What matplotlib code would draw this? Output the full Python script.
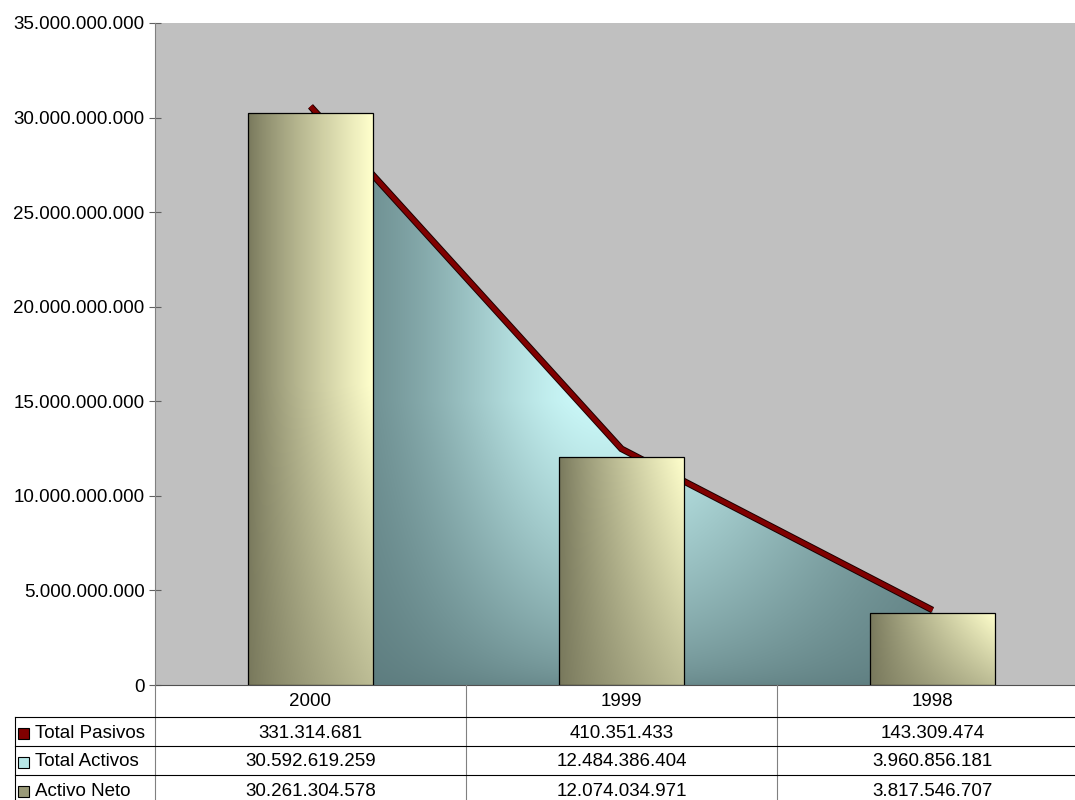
import numpy as np
import matplotlib
matplotlib.use("Agg")
import matplotlib.pyplot as plt
from matplotlib.patches import Polygon, Rectangle
from matplotlib.lines import Line2D
from matplotlib.transforms import blended_transform_factory
import matplotlib.patheffects as pe
from matplotlib.ticker import FuncFormatter, MultipleLocator

# ---- data -------------------------------------------------------------
years = ["2000", "1999", "1998"]
total_pasivos = [331314681, 410351433, 143309474]
total_activos = [30592619259, 12484386404, 3960856181]
activo_neto = [30261304578, 12074034971, 3817546707]
series_names = ["Total Pasivos", "Total Activos", "Activo Neto"]
y_max = 35e9
y_step = 5e9

plt.rcParams['font.family'] = ['Liberation Sans', 'DejaVu Sans']
FS = 13.5


def fmt(v):
    return f"{v:,.0f}".replace(",", ".")


W, H = 1075, 800
fig = plt.figure(figsize=(W / 100, H / 100), dpi=100)
fig.patch.set_facecolor('white')


def fx(px):
    return px / W


def fy(py):
    return 1 - py / H


ax = fig.add_axes([fx(155), fy(685), 933 / W, 662 / H])
ax.set_facecolor('#C0C0C0')
x = np.arange(len(years))

# ---- area: Total Activos with shaded fill -----------------------------
verts = [(x[0], 0)] + list(zip(x, total_activos)) + [(x[-1], 0)]
area = Polygon(verts, closed=True, facecolor='none', edgecolor='none', zorder=1)
ax.add_patch(area)
nx, ny = 500, 400
gx = np.linspace(x[0], x[-1], nx)
gy = np.linspace(0, max(total_activos), ny)
GX, GY = np.meshgrid(gx, gy)
sig = np.where(GX < 0.95, 0.6, 0.85)
hcomp = np.exp(-((GX - 0.95) / sig) ** 2)
vcomp = np.clip(GY / 15e9, 0, 1) ** 0.7
b = hcomp * (0.15 + 0.85 * vcomp)
dark = np.array([0.35, 0.47, 0.48])
light = np.array([0.80, 0.98, 0.98])
img = dark[None, None, :] + b[..., None] * (light - dark)[None, None, :]
im = ax.imshow(img, extent=(x[0], x[-1], 0, max(total_activos)), origin='lower',
               aspect='auto', zorder=1, interpolation='bilinear')
im.set_clip_path(area)

# ---- line: Total Pasivos stacked on Activo Neto -----------------------
stacked = np.array(activo_neto) + np.array(total_pasivos)
ax.plot(x, stacked, color='#800000', lw=3.4, zorder=2, solid_capstyle='butt',
        solid_joinstyle='miter',
        path_effects=[pe.Stroke(linewidth=4.8, foreground='#1a0000'), pe.Normal()])

# ---- bars: Activo Neto with gradient ----------------------------------
bw = 0.4
bdark = np.array([0.47, 0.47, 0.36])
blight = np.array([1.0, 1.0, 0.80])
for xi, val in zip(x, activo_neto):
    rect = Rectangle((xi - bw / 2, 0), bw, val, facecolor='none',
                     edgecolor='black', lw=0.9, zorder=4)
    ax.add_patch(rect)
    bx = np.linspace(0, 1, 120)
    byy = np.linspace(0, 1, 200)
    BX, BY = np.meshgrid(bx, byy)
    hpx = val / y_max * 662
    yf = np.clip(BY * hpx / 300, 0, 1) if hpx > 300 else BY
    t = np.clip(BX * (0.45 + 0.55 * yf), 0, 1) ** 0.85
    bimg = bdark[None, None, :] + t[..., None] * (blight - bdark)[None, None, :]
    bim = ax.imshow(bimg, extent=(xi - bw / 2, xi + bw / 2, 0, val), origin='lower',
                    aspect='auto', zorder=3, interpolation='bilinear')
    bim.set_clip_path(rect)

ax.set_xlim(-0.5, len(years) - 0.5)
ax.set_ylim(0, y_max)

# ---- axes styling -----------------------------------------------------
for s in ['top', 'right']:
    ax.spines[s].set_visible(False)
ax.spines['left'].set_color('#808080')
ax.spines['bottom'].set_color('#505050')
ax.set_xticks([])
ax.yaxis.set_major_locator(MultipleLocator(y_step))
ax.yaxis.set_major_formatter(FuncFormatter(lambda v, p: fmt(v)))
ax.tick_params(axis='y', direction='inout', length=9, width=0.8, color='#606060',
               labelsize=FS, pad=3)

# ---- data table under the plot ---------------------------------------
trans = blended_transform_factory(ax.transData, fig.transFigure)
line_kw = dict(transform=fig.transFigure, color='black', lw=0.8)
grid_kw = dict(transform=fig.transFigure, color='#808080', lw=0.8)

# vertical separators
fig.add_artist(Line2D([fx(155), fx(155)], [fy(685), 0], **grid_kw))
for xb in x[:-1] + 0.5:
    fig.add_artist(Line2D([xb, xb], [fy(685), 0], transform=trans,
                          color='#808080', lw=0.8))
fig.add_artist(Line2D([fx(14.5), fx(14.5)], [fy(717), 0], **line_kw))
for ly in [717, 746, 775]:
    fig.add_artist(Line2D([fx(14.5), 1], [fy(ly), fy(ly)], **line_kw))

# header row with years
for xi, yr in zip(x, years):
    fig.text(xi, fy(702), yr, transform=trans, ha='center', va='center', fontsize=FS)

rows = [total_pasivos, total_activos, activo_neto]
row_centers = [733, 762, 791]
for name, vals, yc in zip(series_names, rows, row_centers):
    fig.text(fx(35), fy(yc), name, ha='left', va='center', fontsize=FS)
    for xi, v in zip(x, vals):
        fig.text(xi, fy(yc), fmt(v), transform=trans, ha='center', va='center',
                 fontsize=FS)

# legend keys in the table
key_colors = ['#800000', '#B8E8E8', '#9A9A78']
for c, yc in zip(key_colors, row_centers):
    fig.add_artist(Rectangle((fx(18), fy(yc + 5.5)), 11 / W, 11 / H,
                             transform=fig.transFigure, facecolor=c,
                             edgecolor='black', lw=0.8))

fig.savefig('out.png', dpi=100)
